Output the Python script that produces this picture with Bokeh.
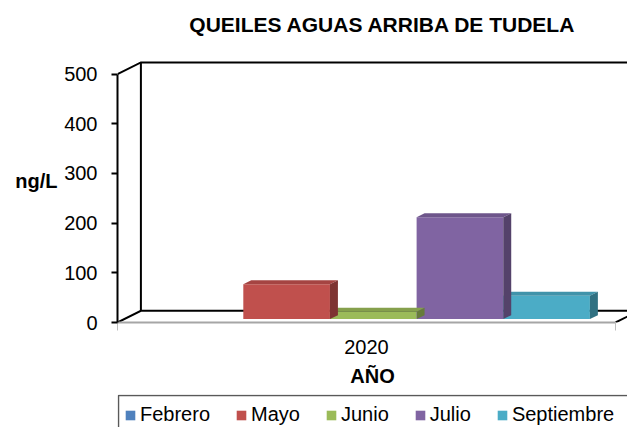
from bokeh.plotting import figure
from bokeh.layouts import column
from bokeh.models import (Range1d, FixedTicker, Legend, LegendItem, LinearAxis,
                          ColumnDataSource, Label)
from bokeh.embed import file_html
from bokeh.resources import INLINE

# ---- data ----
title_text = "QUEILES AGUAS ARRIBA DE TUDELA"
category = "2020"
months = ["Febrero", "Mayo", "Junio", "Julio", "Septiembre"]
values = [0, 70, 15, 205, 47]
colors = ["#4F81BD", "#C0504D", "#9BBB59", "#8064A2", "#4BACC6"]
y_ticks = [0, 100, 200, 300, 400, 500]
y_label = "ng/L"
x_label = "AÑO"

# ---- layout constants (pixels) ----
FW, FH, LH = 627, 394, 33     # main figure and legend strip
LEFT, RIGHT, TOP, BOTTOM = 117, 0, 0, 72
frame_w = FW - LEFT - RIGHT
frame_h = FH - TOP - BOTTOM
px_per_cat = 498.0           # pixels for one category width
px_per_val = 0.4968          # pixels per value unit
DX = 23.4 / px_per_cat       # full depth offset in x units
DY = 11.7 / px_per_val       # full depth offset in y units
F0 = 0.29                    # depth where bar front faces sit
D = 0.34                     # bar depth (fraction of full depth)
GROUP = 0.87                 # group width in category units
YLABEL_POS = 284             # vertical position of the "ng/L" text (value units)
FONT = "Liberation Sans"

def shade(hexcol, f):
    h = hexcol.lstrip("#")
    r, g, b = (int(h[i:i + 2], 16) for i in (0, 2, 4))
    return "#%02x%02x%02x" % (int(r * f), int(g * f), int(b * f))

xmax = frame_w / px_per_cat
ymax = frame_h / px_per_val
ytop = y_ticks[-1]

p = figure(width=FW, height=FH, x_range=Range1d(0, xmax), y_range=Range1d(0, ymax),
           output_backend="svg", toolbar_location=None,
           min_border_left=LEFT, min_border_right=RIGHT, min_border_top=TOP,
           min_border_bottom=BOTTOM, outline_line_color=None)
p.background_fill_color = "white"
p.border_fill_color = "white"
p.xgrid.visible = False
p.ygrid.visible = False

# title (inside the tall frame)
p.add_layout(Label(x=(382.5 - LEFT) / px_per_cat, y=ymax - 24 / px_per_val, text=title_text,
                   text_font=FONT, text_font_size="21px", text_font_style="bold",
                   text_align="center", text_baseline="middle", text_color="black"))

# y axis
ya = p.yaxis[0]
ya.ticker = FixedTicker(ticks=y_ticks, minor_ticks=[])
ya.bounds = (0, ytop)
ya.axis_line_color = "black"
ya.axis_line_width = 2
ya.major_tick_line_color = "black"
ya.major_tick_line_width = 2
ya.major_tick_out = 6
ya.major_tick_in = 0
ya.major_label_standoff = 14
ya.major_label_text_font = FONT
ya.major_label_text_font_size = "20px"
ya.major_label_text_color = "black"

# "ng/L" as a horizontal label on an outer left axis
ylab_axis = LinearAxis(ticker=FixedTicker(ticks=[YLABEL_POS], minor_ticks=[]),
                       major_label_overrides={YLABEL_POS: y_label},
                       axis_line_color=None, major_tick_line_color=None,
                       minor_tick_line_color=None, major_tick_out=0, major_tick_in=0,
                       major_label_standoff=4, major_label_text_font=FONT,
                       major_label_text_font_size="20px", major_label_text_font_style="bold",
                       major_label_text_color="black")
p.add_layout(ylab_axis, "left")

# x axis
xa = p.xaxis[0]
xa.ticker = FixedTicker(ticks=[0.5], minor_ticks=[0, 1])
xa.major_label_overrides = {0.5: category}
xa.bounds = (0, 1)
xa.axis_line_color = "#A6A6A6"
xa.axis_line_width = 2
xa.major_tick_out = 0
xa.major_tick_in = 0
xa.minor_tick_out = 8
xa.minor_tick_in = 0
xa.minor_tick_line_color = "#BFBFBF"
xa.minor_tick_line_width = 1
xa.major_label_standoff = 9
xa.major_label_text_font = FONT
xa.major_label_text_font_size = "20px"
xa.major_label_text_color = "black"
xa.axis_label = x_label
xa.axis_label_standoff = 8
xa.axis_label_text_font = FONT
xa.axis_label_text_font_size = "20px"
xa.axis_label_text_font_style = "bold"
xa.axis_label_text_color = "black"

# 3D walls
wall = dict(line_color="black", line_width=2, line_join="miter")
p.line([0, DX, xmax], [ytop, ytop + DY, ytop + DY], **wall)
p.line([DX, DX], [DY, ytop + DY], **wall)
p.line([0, DX, xmax], [0, DY, DY], **wall)
p.line([1, 1 + DX], [0, DY], **wall)

# bars
bw = GROUP / len(months)
x0 = 0.5 - GROUP / 2
lefts = [x0 + i * bw + F0 * DX for i in range(len(months))]
rights = [l + bw for l in lefts]
base = F0 * DY
src = ColumnDataSource(dict(left=lefts, right=rights, bottom=[base] * len(values),
                            top=[v + base for v in values], color=colors, month=months))
front = p.quad(left="left", right="right", bottom="bottom", top="top", source=src,
               fill_color="color", line_color=None)

top_xs, top_ys, top_c = [], [], []
side_xs, side_ys, side_c = [], [], []
for l, r, v, c in zip(lefts, rights, values, colors):
    if v <= 0:
        continue
    t = v + base
    top_xs.append([l, r, r + D * DX, l + D * DX])
    top_ys.append([t, t, t + D * DY, t + D * DY])
    top_c.append(shade(c, 0.86))
    side_xs.append([r, r + D * DX, r + D * DX, r])
    side_ys.append([base, base + D * DY, t + D * DY, t])
    side_c.append(shade(c, 0.66))
p.patches(top_xs, top_ys, fill_color=top_c, line_color=None)
p.patches(side_xs, side_ys, fill_color=side_c, line_color=None)

# ---- legend strip (its frame is aligned with the main frame; pixel units) ----
p2 = figure(width=FW, height=LH, x_range=Range1d(0, frame_w), y_range=Range1d(-LH, 0),
            output_backend="svg", toolbar_location=None, min_border=0,
            min_border_left=LEFT, x_axis_location=None, y_axis_location=None,
            outline_line_color=None)
p2.background_fill_color = "white"
p2.border_fill_color = "white"
p2.xgrid.visible = False
p2.ygrid.visible = False
p2.quad(left=[1], right=[frame_w + 50], bottom=[-LH - 50], top=[-1],
        fill_color="white", line_color="#595959", line_width=1.5)
front2 = p2.quad(left="left", right="right", bottom="bottom", top="top", source=src,
                 fill_color="color", line_color=None)
items = [LegendItem(label=m, renderers=[front2], index=i) for i, m in enumerate(months)]
leg = Legend(items=items, orientation="horizontal", location=(7, 1),
             label_text_font=FONT, label_text_font_size="20px", label_height=20,
             label_text_color="black", label_standoff=4, spacing=25,
             glyph_width=12, glyph_height=12, padding=8, margin=0,
             border_line_color=None, background_fill_alpha=0)
p2.add_layout(leg, "center")

layout = column(p, p2, spacing=0)
open("out.html", "w").write(file_html(layout, INLINE))
